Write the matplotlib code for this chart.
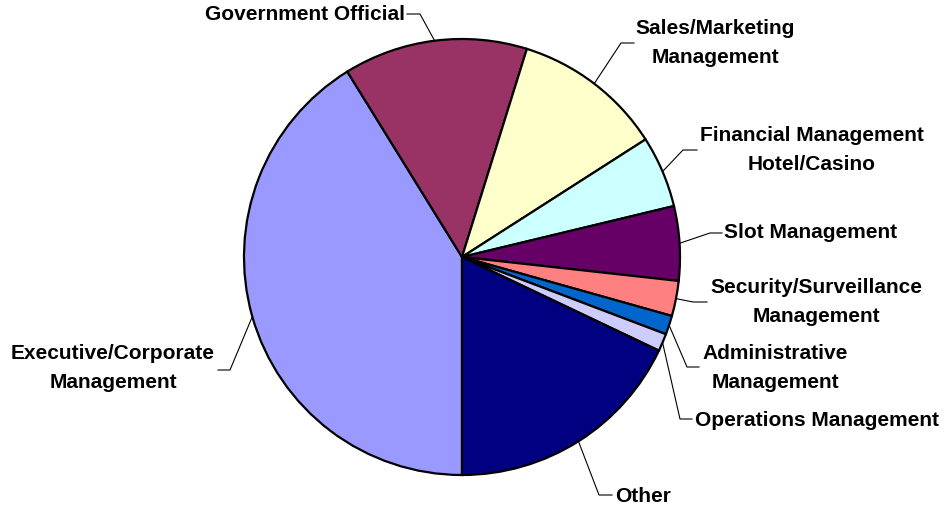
import matplotlib
matplotlib.use("Agg")
import matplotlib.pyplot as plt
import numpy as np

plt.rcParams["font.family"] = ["Liberation Sans", "DejaVu Sans"]

# share of respondents by job title (percent)
categories = [
    "Executive/Corporate\nManagement",
    "Government Official",
    "Sales/Marketing\nManagement",
    "Financial Management\nHotel/Casino",
    "Slot Management",
    "Security/Surveillance\nManagement",
    "Administrative\nManagement",
    "Operations Management",
    "Other",
]
shares = [41.1, 13.6, 11.1, 5.3, 5.5, 2.6, 1.4, 1.3, 17.9]
colors = ["#9999FF", "#993366", "#FFFFCC", "#CCFFFF", "#660066",
          "#FF8080", "#0066CC", "#CCCCFF", "#000080"]

# label layout in pixels from top-left: text x, text y, alignment, elbow x, elbow y, line end x
label_layout = [
    (113, 368, "center", 230, 370, 218),
    (405, 14, "right", 420, 14, 407),
    (715, 43, "center", 621, 43, 634),
    (812, 150, "center", 683, 150, 697),
    (724, 233, "left", 710, 233, 722),
    (816, 302, "center", 693, 302, 707),
    (775, 368, "center", 687, 367, 699),
    (695, 420, "left", 680, 419, 692),
    (615, 496, "left", 599, 495, 612),
]

W, H = 946, 507
cx, cy, r = 462, 257, 218

fig = plt.figure(figsize=(W / 100, H / 100), dpi=100)
ax = fig.add_axes([0, 0, 1, 1])

wedges, _ = ax.pie(
    shares,
    colors=colors,
    startangle=-90,
    counterclock=False,
    center=(cx, H - cy),
    radius=r,
    wedgeprops=dict(edgecolor="black", linewidth=1.6),
    frame=True,
)
ax.set_xlim(0, W)
ax.set_ylim(0, H)
ax.axis("off")

for w, label, (tx, ty, ha, ex, ey, lx) in zip(wedges, categories, label_layout):
    mid = np.deg2rad((w.theta1 + w.theta2) / 2)
    px = cx + r * np.cos(mid)
    py = (H - cy) + r * np.sin(mid)
    ax.plot([px, ex, lx], [py, H - ey, H - ey], color="black", lw=0.8)
    ax.text(tx, H - ty, label, ha=ha, va="center", multialignment="center",
            fontsize=15, fontweight="bold", linespacing=1.65)

fig.savefig("out.png", dpi=100)
